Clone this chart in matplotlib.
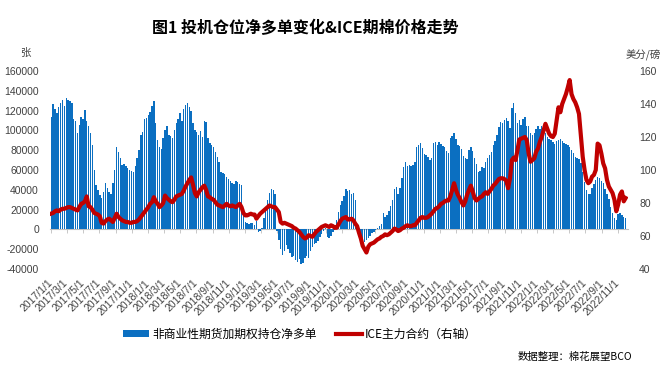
import matplotlib
matplotlib.use("Agg")
import matplotlib.pyplot as plt
import numpy as np
import pandas as pd

plt.rcParams['font.family'] = ['Noto Sans CJK SC', 'DejaVu Sans']
plt.rcParams['axes.unicode_minus'] = False

# ---------------- data ----------------
start_date = "2017-01-03"   # weekly CFTC report dates

# 非商业性期货加期权持仓净多单 (张), weekly
net_long = [
    114000, 127000, 122000, 118000, 124000, 128000, 131000, 125000, 133000, 131000, 130000, 128000,
    112000, 110000, 97000, 105000, 114000, 112000, 121000, 110000, 104000, 97000,
    85000, 60000, 45000, 40000, 35000,
    32000, 38000, 47000, 42000, 38000, 36000, 47000, 60000,
    83000, 78000, 72000, 65000, 66000,
    64000, 62000, 60000, 59000, 58000, 64000, 72000,
    80000, 95000, 98000, 112000, 113000, 116000, 119000, 125000, 130000,
    107000, 90000, 83000, 81000, 92000, 100000, 104000, 95000,
    94000, 92000, 100000, 107000, 112000, 118000, 110000, 122000, 126000, 128000, 124000, 120000, 107000,
    100000, 98000, 95000, 99000, 93000, 110000, 108000, 92000, 87000, 85000, 83000, 78000, 73000,
    68000, 58000, 57000, 56000, 53000, 51000, 49000, 47000, 46000, 49000, 48000, 46000, 45000,
    16000, 7000, 6000, 5000, 6000, 6000, 4000, 8000, -3000, -2000, 1000,
    12000, 22000, 30000, 37000, 41000, 40000, 36000, -2000,
    -11000, -20000, -26000, -22000, -16000, -20000, -24000, -28000, -27000, -31000, -33000, -30000,
    -35000, -34000, -29000, -27000, -29000, -22000, -18000, -15000, -14000, -12000, -8000, -5000,
    -2000, 1000, -8000, -9000, -7000, -3000, -1000, 10000, 18000,
    25000, 29000, 34000, 41000, 39000, 40000, 36000, 37000, 30000, 2000,
    -7000, -8000, -12000, -13000, -11000, -9000, -7000, -4000, -3000, -1000, 1000, 3000, 5000,
    17000, 13000, 15000, 19000, 24000, 30000, 41000, 43000, 36000, 42000, 52000,
    63000, 68000, 64000, 65000, 64000, 65000, 68000, 83000, 85000, 87000, 82000, 76000, 75000,
    73000, 70000, 72000, 87000, 88000, 85000, 88000, 86000, 84000, 83000, 79000, 77000,
    92000, 94000, 97000, 91000, 85000, 84000, 81000, 74000, 72000, 71000, 80000, 83000, 79000,
    72000, 66000, 58000, 59000, 63000, 62000, 68000,
    72000, 75000, 78000, 85000, 89000, 95000, 103000, 108000, 107000, 111000, 113000, 110000,
    102000, 123000, 128000, 118000, 107000, 111000, 105000, 112000, 114000, 104000, 104000,
    97000, 95000, 97000, 101000, 104000, 101000, 104000, 100000, 97000, 93000, 91000, 90000,
    88000, 86000, 89000, 90000, 91000, 89000, 87000, 86000, 85000, 83000, 80000, 77000, 73000,
    72000, 71000, 67000, 58000, 48000, 40000, 36000, 36000, 42000, 46000, 50000, 53000, 52000,
    49000, 47000, 41000, 36000, 31000, 23000, 17000, 12000, 9000, 16000, 17000, 15000, 13000, 12000,
]

# ICE主力合约 (美分/磅), weekly
ice_price = [
    73.6, 74, 75, 75.5, 75, 76, 76.5, 76.5, 77, 77.5, 77.5, 77,
    76.5, 76, 75.5, 77.5, 79.5, 80, 81, 84, 78, 77.5,
    76, 74, 73.5, 73, 72,
    68, 67.5, 69, 70, 70.5, 69.5, 68.5, 71,
    73.5, 71.5, 70.5, 69.5, 69,
    68.5, 68.5, 68, 68, 68.5, 68.5, 69,
    70, 71.5, 73, 74.5, 76, 77.5, 79.5, 80.5, 83.5,
    81, 79.5, 77.5, 78.5, 80, 84.5, 83, 82,
    81, 80.5, 82, 84, 84.5, 85, 85.5, 87.5, 90, 92, 94, 95.5, 91,
    86, 84, 86.5, 88, 89.5, 90.5, 88, 84, 83.5, 82.5, 82, 80.5, 79,
    78.5, 78, 77.5, 78.5, 79.5, 78.5, 78, 78.5, 78, 77.5, 78.5, 79.5, 77.5,
    74, 72.5, 72.5, 73, 73.5, 73, 73, 70.5, 72, 73.5, 74.5,
    75.5, 76.5, 77.5, 78.5, 78, 77.5, 77.5, 76,
    74.5, 68.5, 67.5, 68, 67.5, 67, 66.5, 66, 65, 64.5, 63.5, 62.5,
    61, 59.5, 58.5, 59, 60.5, 60, 59.5, 61, 62.5, 63.5, 64.5, 65.5,
    66, 66.5, 66, 65.5, 66.5, 66, 65, 65, 67,
    69, 70.5, 71, 71.5, 70, 70, 70.5, 69.5, 67.5, 66,
    62, 58.5, 54, 52, 50, 53.5, 55, 55.5, 56, 57, 58, 58.5, 59.5,
    60, 61, 60.5, 61, 62, 63, 64.5, 64, 63, 63.5, 64.5,
    65, 66, 66.5, 66, 66, 66.5, 66.5, 68, 69.5, 71, 71.5, 71, 71,
    71.5, 72.5, 73.5, 75, 76.5, 77, 78, 79.5, 80, 81, 81.5, 81.5,
    84, 88, 92, 88, 85, 83, 80.5, 78.5, 81, 85, 88, 90.5, 87,
    83, 81.5, 82.5, 83.5, 84, 85.5, 86.5,
    85.5, 87, 88.5, 90.5, 91.5, 93, 94.5, 95, 95, 94.5, 93.5, 89,
    95, 106, 107.5, 106, 112, 118.5, 119, 119.5, 120, 118, 110,
    105, 106, 107, 111, 113, 117, 120, 124, 128, 125, 122, 120.5,
    120, 122, 130, 138, 135, 140, 143, 146, 150, 154.5, 146, 143, 141,
    138, 134, 121, 108, 100, 94, 92, 93, 96, 97, 100, 116, 115,
    110, 104, 101, 94, 90, 88, 86, 82, 75, 79, 85, 87, 81, 83,
]

left_ticks = [-40000, -20000, 0, 20000, 40000, 60000, 80000, 100000, 120000, 140000, 160000]
right_ticks = [40, 60, 80, 100, 120, 140, 160]
x_tick_dates = pd.date_range("2017-01-01", "2022-11-01", freq="2MS")
x_tick_labels = [f"{d.year}/{d.month}/1" for d in x_tick_dates]

title = "图1 投机仓位净多单变化&ICE期棉价格走势"
bar_label = "非商业性期货加期权持仓净多单"
line_label = "ICE主力合约（右轴）"
source_text = "数据整理：棉花展望BCO"

# ---------------- plot ----------------
dates = pd.date_range(start_date, periods=len(net_long), freq="7D")
ice_dates = pd.date_range(start_date, periods=len(ice_price), freq="7D")

W, H = 665, 374
fig = plt.figure(figsize=(W / 100, H / 100), dpi=100)
ax = fig.add_axes([50 / W, 1 - 269 / H, 578 / W, 198 / H])

BLUE = "#0B6FC1"
RED = "#C00000"
tickfont = dict(family=["Liberation Sans", "DejaVu Sans"], size=7.5)

ax.bar(dates, net_long, width=5.3, color=BLUE, linewidth=0, label=bar_label, zorder=2)
ax.set_ylim(-40000, 160000)
ax.set_yticks(left_ticks)
ax.set_yticklabels([str(v) for v in left_ticks], **tickfont)
ax.set_xlim(pd.Timestamp("2016-12-29"), pd.Timestamp("2022-12-08"))
ax.set_xticks(x_tick_dates)
ax.set_xticklabels(x_tick_labels, rotation=45, ha="right", va="center",
                   rotation_mode="anchor", **tickfont)
ax.tick_params(axis="x", length=0, pad=9, colors="#404040")
ax.tick_params(axis="y", length=0, pad=8, colors="#404040")
for s in ax.spines.values():
    s.set_visible(False)

# zero axis line with tick marks
sec = ax.secondary_xaxis(0.2)
sec.set_xticks(x_tick_dates)
sec.set_xticklabels([])
sec.tick_params(axis="x", length=3, width=0.6, color="#BFBFBF", direction="out")
sec.spines["bottom"].set_color("#BFBFBF")
sec.spines["bottom"].set_linewidth(0.8)

ax2 = ax.twinx()
ax2.plot(ice_dates, ice_price, color=RED, linewidth=3.0, solid_joinstyle="round",
         label=line_label, zorder=3)
ax2.set_ylim(40, 160)
ax2.set_yticks(right_ticks)
ax2.set_yticklabels([str(v) for v in right_ticks], **tickfont)
ax2.tick_params(axis="y", length=0, pad=8, colors="#404040")
for s in ax2.spines.values():
    s.set_visible(False)

fig.text(305 / W, 1 - 28 / H, title, ha="center", va="center", fontsize=11.5,
         fontweight="bold", color="#000000")
fig.text(25 / W, 1 - 53 / H, "张", ha="center", va="center", fontsize=7.5, color="#404040")
fig.text(643 / W, 1 - 55 / H, "美分/磅", ha="center", va="center", fontsize=7.5, color="#404040")
fig.text(632 / W, 1 - 357 / H, source_text, ha="right", va="center", fontsize=7.5, color="#000000")

h1, l1 = ax.get_legend_handles_labels()
h2, l2 = ax2.get_legend_handles_labels()
fig.legend(h1 + h2, l1 + l2, loc="center", bbox_to_anchor=(300 / W, 1 - 334 / H),
           ncol=2, frameon=False, fontsize=8.5, handlelength=2.2, handleheight=0.6,
           columnspacing=1.6, handletextpad=0.3)

fig.savefig("out.png", dpi=100)
